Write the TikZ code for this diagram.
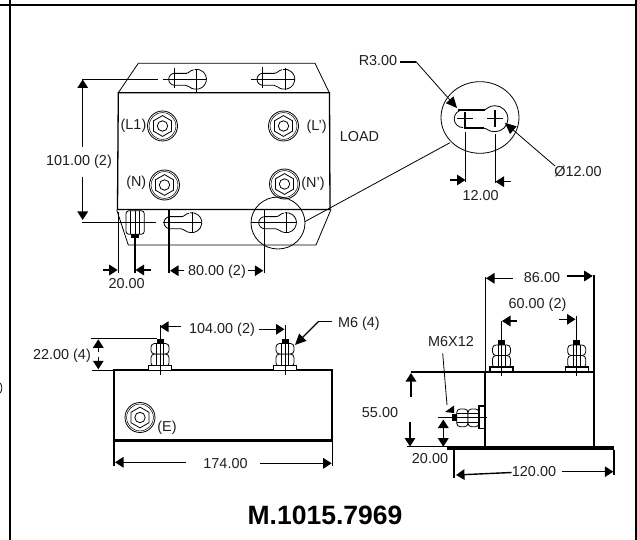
\documentclass[tikz,border=0pt]{standalone}
\usepackage{fontspec}
\setmainfont{Liberation Sans}
\usetikzlibrary{arrows.meta}
\tikzset{
 x=1pt,y=-1pt,
 lbl/.style={inner sep=0pt,font=\fontsize{14.4}{16}\selectfont,text=black!88},
 thin line/.style={line width=0.8pt},
 mid line/.style={line width=1.3pt},
 dim/.style={line width=1.4pt,-{Triangle[length=8.5pt,width=10.5pt]}},
 heavy/.style={line width=1.7pt},
}
\newcommand{\hexterm}[2]{%
 \draw[thin line] (#1,#2) circle[radius=15];
 \draw[line width=0.5pt] (#1,#2) circle[radius=13.4];
 \draw[thin line] (#1,#2) circle[radius=5.2];
 \draw[thin line] (#1-9,#2-5.2) -- (#1,#2-10.4) -- (#1+9,#2-5.2) -- (#1+9,#2+5.2) -- (#1,#2+10.4) -- (#1-9,#2+5.2) -- cycle;
}
% keyhole: big hole centred at (#1,#2), slot to the left
\newcommand{\keyhole}[2]{%
 \draw[thin line] (#1-3,#2-9.5) .. controls (#1-7,#2-9) and (#1-7,#2-6) .. (#1-11,#2-6) -- (#1-22,#2-6)
   arc[start angle=270,end angle=90,radius=6] -- (#1-11,#2+6) .. controls (#1-7,#2+6) and (#1-7,#2+9.5) .. (#1-2,#2+9.8)
   arc[start angle=100,end angle=-100,radius=10];
 \draw[mid line] (#1-22,#2-6) -- (#1-10,#2-6);
}
\newcommand{\vstud}[2]{%
 \draw[thin line,fill=white,rounded corners=3.5pt] (#1-9,#2-16.5) rectangle (#1+9,#2-4);
 \draw[thin line,fill=white,rounded corners=3.5pt] (#1-9,#2-27) rectangle (#1+9,#2-16.5);
 \draw[thin line] (#1-3.5,#2-27) -- (#1-3.5,#2-4) (#1+3.5,#2-27) -- (#1+3.5,#2-4);
 \draw[mid line,fill=white] (#1-11.5,#2-5) rectangle (#1+11.5,#2);
 \fill (#1-3.5,#2-32) rectangle (#1+3.5,#2-27);
}
\begin{document}
\begin{tikzpicture}
\useasboundingbox (0,0) rectangle (637,540);
\fill[white] (0,0) rectangle (637,540);
% frame
\draw[line width=1.9pt] (0,5) -- (636,5);
\draw[line width=1.9pt] (10,0) -- (10,540);
\draw[line width=1.9pt] (636,0) -- (636,540);
\draw[line width=0.7pt] (0.3,383) .. controls (2.3,386) and (2.3,390) .. (0.3,393);
% ---- top view
\draw[thin line] (118.3,92.7) -- (138.3,63.3) -- (315,63.3) -- (329.3,92.7);
\draw[mid line] (118.3,92.7) -- (329.5,92.7) -- (330,209.5) -- (117.5,209.5) -- cycle;
\draw[thin line] (116.7,210) -- (128.3,245) -- (316,245) -- (331,209.5);
\hexterm{162.5}{126}\hexterm{283.5}{126}\hexterm{164.5}{185}\hexterm{284.5}{184}
\node[lbl] (l1) at (133.5,126) {(L1)};
\node[lbl] (lp) at (316.7,127) {(L')};
\node[lbl] (n) at (136.3,182.7) {(N)};
\node[lbl] (np) at (313,184) {(N')};
\node[lbl] (load) at (359.5,136.7) {LOAD};
% slots
\keyhole{196.7}{79.3}\keyhole{285}{79.3}\keyhole{192}{222.7}\keyhole{286.7}{222.7}
\draw[thin line] (174.3,68)--(174.3,88) (196.7,69)--(196.7,92) (262,67.5)--(262,88) (285,68)--(285,90);
\draw[thin line] (163,79.3)--(206,79.3) (251,79.3)--(295,79.3);
\draw[thin line] (192,212)--(192,232) (286.7,212)--(286.7,232);
\draw[thin line] (163,222.7)--(201,222.7) (251,222.7)--(296,222.7);
% nut side-on at lower left
\draw[thin line,rounded corners=3pt] (126,210.7) rectangle (144.3,234.3);
\draw[thin line] (130.7,211)--(130.7,234) (135,211)--(135,234) (139,211)--(139,234);
\fill (131,234) rectangle (139,237.5);
% detail circle and its link
\draw[thin line] (278,223) ellipse[x radius=27,y radius=26];
\coordinate (lkA) at (305,221.6);
\coordinate (lkB) at (450,142.7);
\draw[thin line] (lkA) -- (lkB);
\draw[thin line] (480,117.5) ellipse[x radius=39,y radius=35.8];
% large keyhole
\draw[thin line] (463,110) arc[start angle=270,end angle=90,radius=8.8]
  (483,128) .. controls (487,128) and (488,131.7) .. (495,131.7)
  arc[start angle=90,end angle=-90,radius=13]
  .. controls (488,105.7) and (487,110) .. (483,110);
\draw[heavy] (458,110)--(485,110) (463.5,127.8)--(484,127.8);
\draw[heavy] (465,112)--(465,128) (457,118.5)--(473,118.5);
\draw[mid line] (495,110)--(495,127) (487,118.5)--(503,118.5);
% leaders of detail
\node[lbl] (r3) at (378,61) {R3.00};
\coordinate (r2) at (416,61.7);
\coordinate (r4) at (457,108);
\draw[heavy] (400,61.7) -- (r2);
\draw[thin line,-{Triangle[length=11pt,width=10pt]}] (r2) -- (r4);
\node[lbl] (d12) at (578,171.7) {Ø12.00};
\coordinate (d12a) at (555,166);
\coordinate (d12b) at (505,123);
\draw[thin line,-{Triangle[length=11pt,width=10pt]}] (d12a) -- (d12b);
\draw[thin line] (465.7,132)--(465.7,182) (495,134)--(495,183);
\draw[dim] (450,180)--(465.5,180);
\draw[dim] (511,181.7)--(495.5,181.7);
\node[lbl] (d122) at (480.7,195.7) {12.00};
% 101
\draw[thin line] (82,79.3)--(158,79.3);
\draw[mid line] (82,222.7)--(156,222.7);
\node[lbl] (d101) at (79,162) {101.00 (2)};
\draw[dim] (82.7,146.7)--(82.7,79.5);
\draw[dim] (82.7,176.7)--(82.7,220);
% 20
\draw[thin line] (118.3,211.7)--(118.3,273);
\draw[mid line] (135,236.7)--(135,273);
\draw[dim] (102.7,270)--(117.7,270);
\draw[dim] (150.7,270)--(135.5,270);
\node[lbl] (d20) at (126.7,283.3) {20.00};
% 80
\draw[mid line] (169,210)--(169,273);
\draw[thin line] (264,210)--(264,273);
\node[lbl] (d80) at (217,271.7) {80.00 (2)};
\draw[dim] (184.3,270.7)--(170,270.7);
\draw[dim] (248.3,270.7)--(263.3,270.7);
% ---- front view
\draw[heavy] (114,441)--(114,370)--(332.3,370)--(332.3,441);
\draw[line width=3.5pt] (114,440.7)--(332.3,440.7);
\vstud{160}{370.5}\vstud{285}{370.5}
\draw[thin line] (160,325)--(160,375) (285,325)--(285,375);
\hexterm{140}{417.5}
\node[lbl] (e) at (167,427.3) {(E)};
\node[lbl] (d104) at (222,329.3) {104.00 (2)};
\draw[dim] (180.7,326.7)--(160,326.7);
\draw[dim] (259.3,329.3)--(284.5,329.3);
\node[lbl] (m6) at (359,323.3) {M6 (4)};
\coordinate (m6a) at (318.3,321.7);
\coordinate (m6b) at (295,345);
\draw[mid line] (332.3,321.7) -- (m6a);
\draw[mid line,-{Triangle[length=11pt,width=10pt]}] (m6a) -- (m6b);
\draw[mid line] (91,338.7)--(157,338.7);
\draw[thin line] (92,370)--(114,370);
\node[lbl] (d22) at (62,355.7) {22.00 (4)};
\draw[dim] (98.3,351.7)--(98.3,339.3);
\draw[dim] (98.3,356.7)--(98.3,369.3);
\draw[mid line] (114,441)--(114,465.7) (332.3,441)--(332.3,465.7);
\draw[dim] (185.7,462.3)--(115,462.3);
\node[lbl] (d174) at (225.5,463.3) {174.00};
\draw[dim] (260,463.3)--(331.7,463.3);
% ---- side view
\draw[heavy] (410.7,372.3)--(594,372.3) (485,372.3)--(485,448) (594,275)--(594,448);
\draw[thin line] (485,276.7)--(485,372.3);
\draw[line width=4pt] (447,448.3)--(614,448.3);
\vstud{501.5}{372}\vstud{576.7}{372}
\draw[thin line] (501.5,321)--(501.5,376) (576.7,316)--(576.7,376);
% horizontal stud
\draw[thin line,fill=white,rounded corners=3.5pt] (456.7,409) rectangle (468,426.7);
\draw[thin line,fill=white,rounded corners=3.5pt] (468,409) rectangle (479,426.7);
\draw[thin line] (457,413.3)--(479,413.3) (457,422.7)--(479,422.7);
\draw[mid line,fill=white] (479,406) rectangle (484.3,428.3);
\fill (451.7,414) rectangle (456.7,420.7);
\draw[mid line] (438,417.7)--(486.7,417.7);
\node[lbl] (m6x) at (451,341.7) {M6X12};
\coordinate (mxa) at (442.7,353.3);
\coordinate (mxb) at (447,405);
\draw[thin line] (mxa) -- (mxb);
\fill (445,412) -- (454,405.5) -- (454,413) -- cycle;
% 86
\draw[dim] (513,278.3)--(486,278.3);
\node[lbl] (d86) at (542,277.3) {86.00};
\draw[dim] (566.7,276)--(592.7,276);
% 60
\node[lbl] (d60) at (537.5,305) {60.00 (2)};
\draw[dim] (516.7,321)--(502,321);
\draw[dim] (559.3,319.3)--(575.5,319.3);
% 55
\draw[thin line] (407,446.7)--(447,446.7);
\node[lbl] (d55) at (380,412.3) {55.00};
\draw[dim] (411,397.3)--(411,373);
\draw[dim] (410,422.3)--(410,446.5);
\draw[dim] (443.3,434)--(443.3,419.5);
\draw[dim] (443.3,434)--(443.3,446.7);
\node[lbl] (d202) at (430,459) {20.00};
% 120
\draw[mid line] (454,450)--(454,478) (614,450)--(614,475);
\draw[dim] (511.7,472.5)--(456,475);
\node[lbl] (d120) at (534,471.7) {120.00};
\draw[dim] (561.7,471.7)--(613.3,471.7);
\node[inner sep=0pt,font=\fontsize{26.5}{30}\selectfont\bfseries] (title) at (325,515) {M.1015.7969};
\end{tikzpicture}
\end{document}
